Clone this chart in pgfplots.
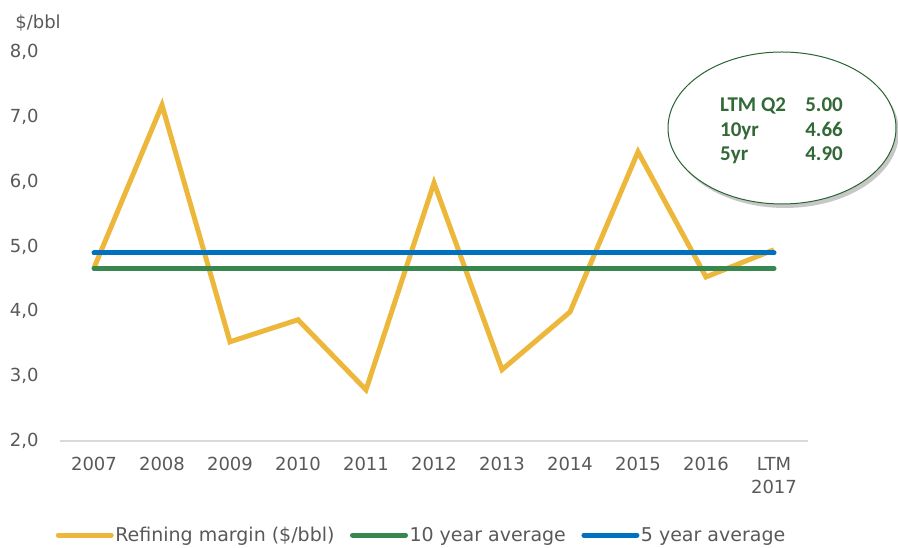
\documentclass[border=0pt]{standalone}
\usepackage{pgfplots}
\pgfplotsset{compat=1.18}
\usepackage{fontspec}
\setmainfont{DejaVu Sans}
\newfontfamily\calibri{Carlito}
\usetikzlibrary{shadows}
\definecolor{cYellow}{RGB}{237,183,59}
\definecolor{cGreen}{RGB}{56,135,79}
\definecolor{cBlue}{RGB}{0,112,192}
\definecolor{cGrey}{RGB}{89,89,89}
\definecolor{eGreen}{RGB}{40,100,50}
\definecolor{tGreen}{RGB}{50,105,55}

\begin{document}
\begin{tikzpicture}[x=1pt,y=1pt]
\path[use as bounding box] (0,0) rectangle (898,548);
\begin{axis}[
  at={(60pt,107pt)}, anchor=south west,
  scale only axis, width=748pt, height=389pt,
  xmin=-0.5, xmax=10.5, ymin=2, ymax=8,
  clip=false,
  axis x line*=bottom, axis y line*=left,
  y axis line style={draw=none},
  x axis line style={draw=black!15, line width=1.2pt},
  tick style={draw=none},
  xtick={0,...,10},
  xticklabels={2007,2008,2009,2010,2011,2012,2013,2014,2015,2016,{LTM\\2017}},
  xticklabel style={align=center, yshift=-13pt, font=\fontsize{18}{23}\selectfont, text=cGrey},
  ytick={2,3,...,8},
  yticklabel style={xshift=-18pt, font=\fontsize{18}{21}\selectfont, text=cGrey},
  /pgf/number format/.cd, use comma, fixed, fixed zerofill, precision=1, assume math mode=true,
  /pgfplots/.cd,
  legend columns=3,
  legend image code/.code={\draw[#1, line cap=round] (0pt,0pt) -- (53pt,0pt);},
  legend style={at={(axis description cs:0.483,-0.242)}, anchor=center, draw=none, fill=none,
    font=\fontsize{19}{22}\selectfont, text=cGrey, inner sep=0pt,
    /tikz/every odd column/.append style={column sep=0pt},
    /tikz/every even column/.append style={column sep=14pt},
    nodes={inner sep=1.5pt}},
]
\addplot[cYellow, line width=5pt, line join=miter] coordinates {
  (0,4.67) (1,7.18) (2,3.53) (3,3.87) (4,2.79) (5,5.98) (6,3.10) (7,3.99) (8,6.46) (9,4.53) (10,4.95)};
\addlegendentry{Refining margin (\$/bbl)}
\addplot[cGreen, line width=5pt, line cap=round] coordinates {(0,4.66) (10,4.66)};
\addlegendentry{10 year average}
\addplot[cBlue, line width=5pt, line cap=round] coordinates {(0,4.90) (10,4.90)};
\addlegendentry{5 year average}
\end{axis}
\node[font=\fontsize{18}{21}\selectfont, text=cGrey] at (38,525) {\$/bbl};
\draw[draw=eGreen, line width=1pt, fill=white,
  drop shadow={shadow xshift=3pt, shadow yshift=-4pt, opacity=0.4, fill=black!55}]
  (782,420) ellipse [x radius=114, y radius=76];
\begin{scope}[every node/.style={font=\calibri\bfseries\fontsize{21}{25}\selectfont, text=tGreen, inner sep=0pt}]
\node[anchor=base west] at (720,436) {LTM Q2};
\node[anchor=base west] at (720,411) {10yr};
\node[anchor=base west] at (720,387) {5yr};
\node[anchor=base east] at (843,436) {5.00};
\node[anchor=base east] at (843,411) {4.66};
\node[anchor=base east] at (843,387) {4.90};
\end{scope}
\end{tikzpicture}
\end{document}
